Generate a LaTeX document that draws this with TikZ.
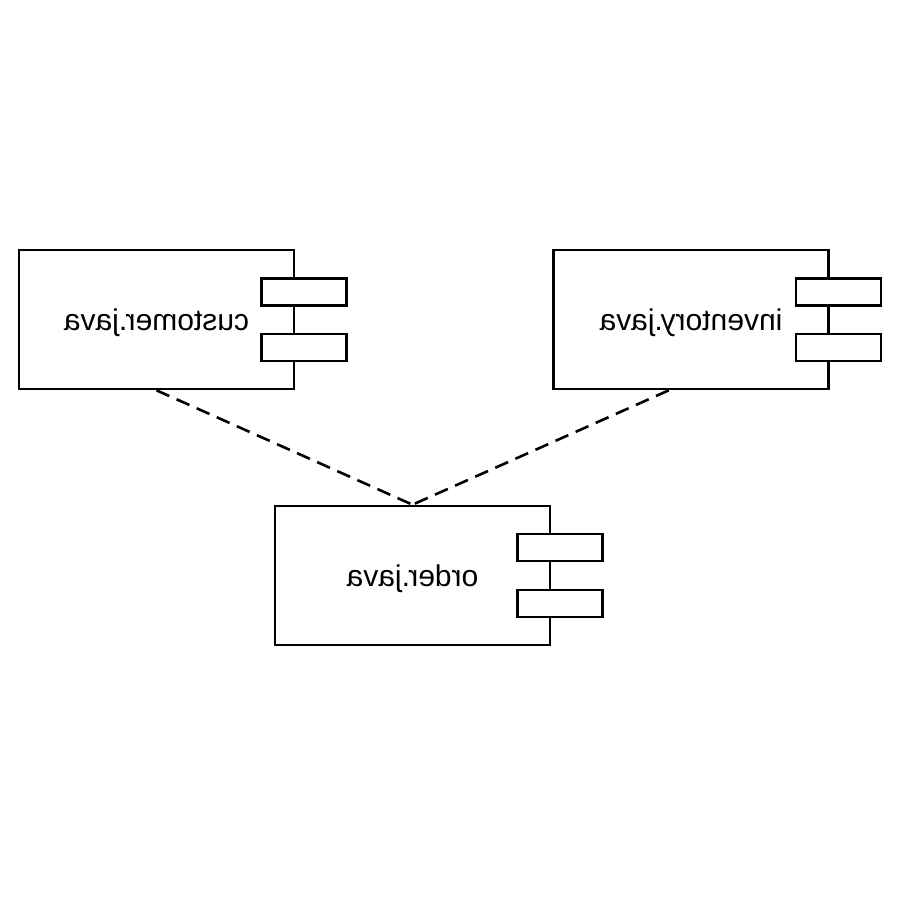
\documentclass[tikz,border=0pt]{standalone}
\usepackage{fontspec}
\setmainfont{Liberation Sans}
\usepackage{graphicx}
\usetikzlibrary{calc}
\tikzset{
  comp/.style={draw, line width=2.6pt, minimum width=275pt, minimum height=139pt, inner sep=0pt, fill=white},
  port/.style={draw, line width=2.6pt, fill=white, minimum width=85pt, minimum height=27pt, inner sep=0pt},
  lbl/.style={font=\fontsize{30}{36}\selectfont, anchor=base, inner sep=0pt},
  dep/.style={line width=2.6pt, dash pattern=on 14pt off 8pt}
}
\begin{document}
\begin{tikzpicture}[x=1pt,y=-1pt]
\useasboundingbox (0,0) rectangle (900,900);
% components
\node[comp] (cust) at (156.5,319.5) {};
\node[port] (cp1) at ($(cust.east)+(8.5,-27.5)$) {};
\node[port] (cp2) at ($(cust.east)+(8.5,28)$) {};
\node[lbl] (custl) at ($(cust.center)+(0,10.5)$) {\reflectbox{customer.java}};

\node[comp] (inv) at (691,319.5) {};
\node[port] (ip1) at ($(inv.east)+(8.5,-27.5)$) {};
\node[port] (ip2) at ($(inv.east)+(8.5,28)$) {};
\node[lbl] (invl) at ($(inv.center)+(0,10.5)$) {\reflectbox{inventory.java}};

\node[comp] (ord) at (412.5,575.5) {};
\node[port] (op1) at ($(ord.east)+(8.5,-28)$) {};
\node[port] (op2) at ($(ord.east)+(8.5,28)$) {};
\node[lbl] (ordl) at ($(ord.center)+(0,10.5)$) {\reflectbox{order.java}};

% dependencies
\coordinate (invfoot) at ($(inv.south west)!0.42!(inv.south east)$);
\draw[dep] (cust.south) -- (ord.north);
\draw[dep] (invfoot) -- (ord.north);
\end{tikzpicture}
\end{document}
